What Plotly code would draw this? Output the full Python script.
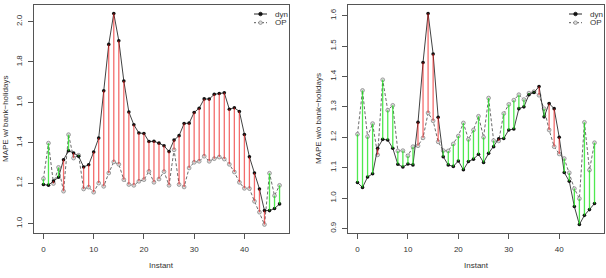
import plotly.graph_objects as go

instants = list(range(48))

dyn_w = [1.193, 1.19, 1.21, 1.229, 1.316, 1.36, 1.349, 1.333, 1.28, 1.291, 1.354, 1.423,
         1.657, 1.887, 2.04, 1.905, 1.706, 1.552, 1.489, 1.448, 1.446, 1.406, 1.407, 1.398,
         1.385, 1.356, 1.413, 1.435, 1.495, 1.497, 1.55, 1.571, 1.617, 1.616, 1.64, 1.644,
         1.647, 1.566, 1.573, 1.555, 1.441, 1.33, 1.25, 1.171, 1.064, 1.064, 1.074, 1.097]
op_w = [1.222, 1.398, 1.198, 1.278, 1.16, 1.44, 1.324, 1.338, 1.171, 1.18, 1.155, 1.2,
        1.184, 1.25, 1.305, 1.293, 1.217, 1.193, 1.189, 1.209, 1.217, 1.258, 1.204, 1.22,
        1.257, 1.189, 1.365, 1.193, 1.181, 1.275, 1.303, 1.308, 1.333, 1.308, 1.321, 1.329,
        1.319, 1.293, 1.255, 1.204, 1.174, 1.173, 1.11, 1.056, 0.995, 1.249, 1.138, 1.189]

dyn_wo = [1.051, 1.035, 1.069, 1.08, 1.164, 1.193, 1.191, 1.164, 1.111, 1.102, 1.112, 1.109,
          1.249, 1.446, 1.607, 1.474, 1.266, 1.136, 1.109, 1.104, 1.122, 1.093, 1.12, 1.128,
          1.144, 1.117, 1.147, 1.169, 1.195, 1.196, 1.224, 1.227, 1.294, 1.3, 1.34, 1.347,
          1.367, 1.267, 1.311, 1.294, 1.2, 1.084, 1.055, 0.972, 0.913, 0.943, 0.962, 0.982]
op_wo = [1.21, 1.354, 1.202, 1.245, 1.142, 1.389, 1.289, 1.305, 1.155, 1.156, 1.139, 1.169,
         1.172, 1.198, 1.28, 1.254, 1.185, 1.156, 1.155, 1.178, 1.204, 1.247, 1.193, 1.224,
         1.269, 1.2, 1.329, 1.189, 1.188, 1.278, 1.308, 1.322, 1.34, 1.324, 1.345, 1.35,
         1.338, 1.294, 1.224, 1.169, 1.145, 1.13, 1.083, 1.031, 0.998, 1.249, 1.092, 1.182]

x_ticks = [0, 10, 20, 30, 40]
y_ticks_w = [1.0, 1.2, 1.4, 1.6, 1.8, 2.0]
y_ticks_wo = [0.9, 1.0, 1.1, 1.2, 1.3, 1.4, 1.5, 1.6]
y_titles = ["MAPE w/ bank\u2212holidays", "MAPE w/o bank\u2212holidays"]
x_title = "Instant"
names = ["dyn", "OP"]

W, H = 606, 278
FONT = "Liberation Sans, Arial, Helvetica, sans-serif"
TXT = "#333333"
RED = "rgba(235,20,20,0.62)"
GREEN = "rgba(20,225,20,0.75)"

fig = go.Figure()


def add_panel(dyn, op, xa, ya):
    fig.add_trace(go.Scatter(x=instants, y=op, mode="lines+markers", xaxis=xa, yaxis=ya,
                             line=dict(color="#444444", width=0.8, dash="3px,2px"),
                             marker=dict(symbol="circle", size=3.8, color="#dcdcdc",
                                         line=dict(color="#808080", width=0.7)),
                             showlegend=False, hoverinfo="skip"))
    fig.add_trace(go.Scatter(x=instants, y=dyn, mode="lines+markers", xaxis=xa, yaxis=ya,
                             line=dict(color="#111111", width=0.8),
                             marker=dict(symbol="circle", size=3.6, color="#111111"),
                             showlegend=False, hoverinfo="skip"))
    rx, ry, gx, gy = [], [], [], []
    for i, d, o in zip(instants, dyn, op):
        if d >= o:
            rx += [i, i, None]; ry += [o, d, None]
        else:
            gx += [i, i, None]; gy += [o, d, None]
    fig.add_trace(go.Scatter(x=rx, y=ry, mode="lines", xaxis=xa, yaxis=ya,
                             line=dict(color=RED, width=1.3), showlegend=False,
                             hoverinfo="skip"))
    fig.add_trace(go.Scatter(x=gx, y=gy, mode="lines", xaxis=xa, yaxis=ya,
                             line=dict(color=GREEN, width=1.3), showlegend=False,
                             hoverinfo="skip"))


add_panel(dyn_w, op_w, "x", "y")
add_panel(dyn_wo, op_wo, "x2", "y2")


def px_x(p):
    return p / W


def px_y(p):
    return 1 - p / H


panels = [
    dict(x0=34, x1=289, xa="xaxis", ya="yaxis", yt=y_ticks_w, yr=[0.953, 2.082], ytitle_x=5),
    dict(x0=348, x1=604, xa="xaxis2", ya="yaxis2", yt=y_ticks_wo, yr=[0.885, 1.635], ytitle_x=318),
]

axis_common = dict(showgrid=False, zeroline=False, showline=True, mirror=True,
                   linecolor="#555555", linewidth=1, ticks="outside", ticklen=5,
                   tickwidth=1, tickcolor="#555555", ticklabelstandoff=3,
                   tickfont=dict(family=FONT, size=8, color=TXT))

annotations = []
shapes = []
for k, p in enumerate(panels):
    suffix = "" if k == 0 else "2"
    fig.layout[p["xa"]] = dict(domain=[px_x(p["x0"]), px_x(p["x1"])], range=[-1.88, 48.88],
                               tickvals=x_ticks, anchor="y" + suffix, **axis_common)
    fig.layout[p["ya"]] = dict(domain=[px_y(233), px_y(5)], range=p["yr"],
                               tickvals=p["yt"], tickformat=".1f", tickangle=-90,
                               anchor="x" + suffix, **axis_common)
    annotations.append(dict(text=x_title, x=px_x((p["x0"] + p["x1"]) / 2), y=px_y(265),
                            xref="paper", yref="paper", showarrow=False,
                            xanchor="center", yanchor="middle",
                            font=dict(family=FONT, size=8, color=TXT)))
    annotations.append(dict(text=y_titles[k], x=px_x(p["ytitle_x"]), y=px_y(119),
                            xref="paper", yref="paper", showarrow=False, textangle=-90,
                            xanchor="center", yanchor="middle",
                            font=dict(family=FONT, size=8, color=TXT)))
    lx0 = p["x1"] - 35
    lx1 = lx0 + 13
    lmid = (lx0 + lx1) / 2
    rows = [(14, names[0]), (22.7, names[1])]
    for j, (yy, nm) in enumerate(rows):
        shapes.append(dict(type="line", xref="paper", yref="paper",
                           x0=px_x(lx0), x1=px_x(lx1), y0=px_y(yy), y1=px_y(yy),
                           line=dict(color="#111111" if j == 0 else "#444444", width=0.9,
                                     dash="solid" if j == 0 else "2px,2px")))
        r = 1.8
        shapes.append(dict(type="circle", xref="paper", yref="paper",
                           x0=px_x(lmid - r), x1=px_x(lmid + r),
                           y0=px_y(yy - r), y1=px_y(yy + r),
                           fillcolor="#111111" if j == 0 else "#dcdcdc",
                           line=dict(color="#111111" if j == 0 else "#808080", width=0.7)))
        annotations.append(dict(text=nm, x=px_x(lx1 + 6), y=px_y(yy), xref="paper",
                                yref="paper", showarrow=False, xanchor="left",
                                yanchor="middle",
                                font=dict(family=FONT, size=8, color=TXT)))

fig.update_layout(width=W, height=H, margin=dict(l=0, r=0, t=0, b=0),
                  paper_bgcolor="white", plot_bgcolor="white",
                  annotations=annotations, shapes=shapes, showlegend=False)

fig.write_html("out.html")
